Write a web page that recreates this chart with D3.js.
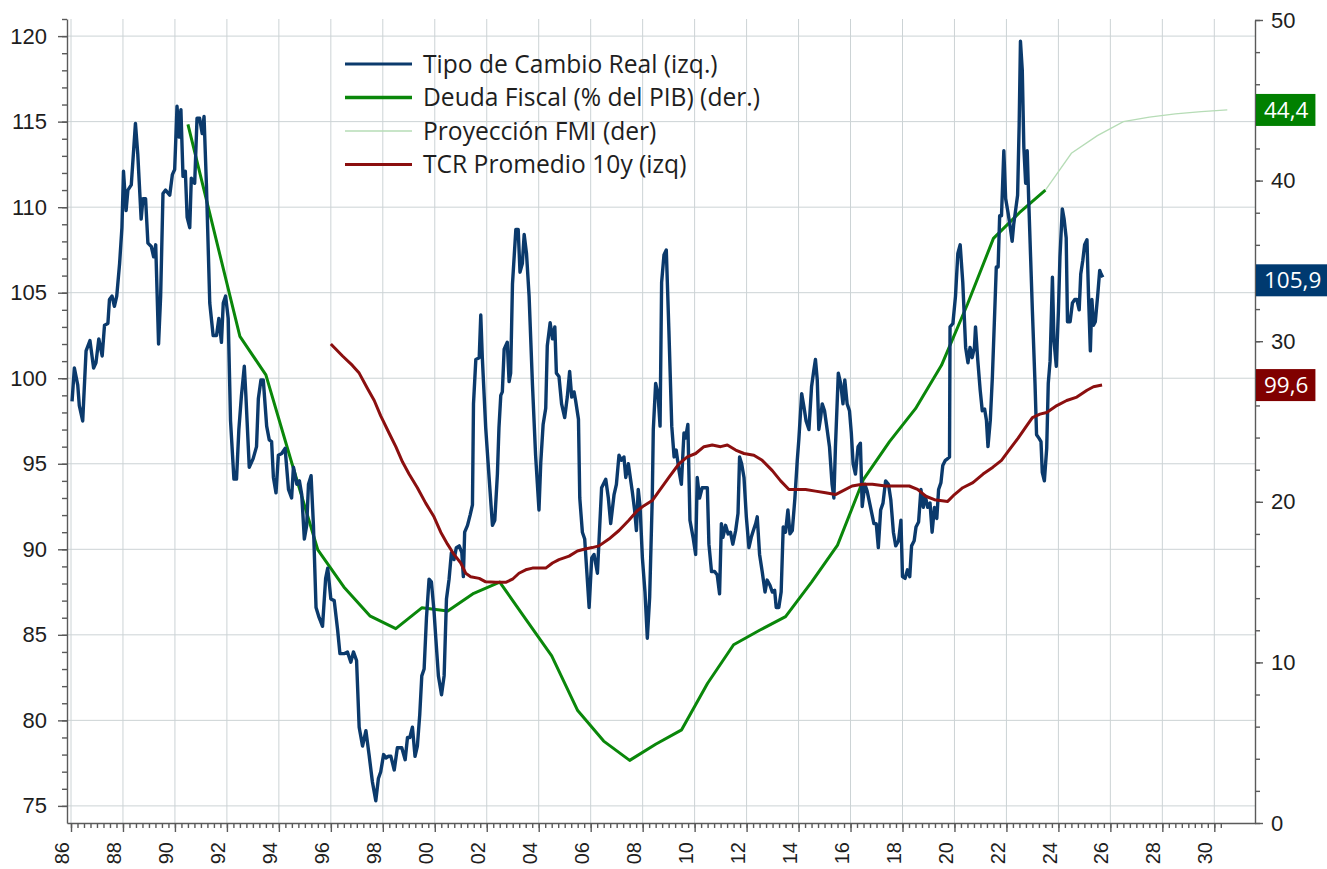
<!DOCTYPE html>
<html>
<head>
<meta charset="utf-8">
<script src="https://cdn.jsdelivr.net/npm/d3@7"></script>
<style>
  html, body { margin: 0; padding: 0; background: #fff; }
  svg { display: block; font-family: "Open Sans", "Noto Sans", sans-serif; }
</style>
</head>
<body>
<div id="chart"></div>
<script>
// === DATA (decimal year, value) ===

// Tipo de Cambio Real (left axis)
const tipoCambioReal = [
  [1986.04, 98.65], [1986.13, 100.6], [1986.26, 99.6], [1986.32, 98.4], [1986.45, 97.5],
  [1986.58, 101.6], [1986.73, 102.2], [1986.87, 100.6], [1986.96, 100.9], [1987.07, 102.3],
  [1987.2, 101.3], [1987.29, 103.1], [1987.42, 103.2], [1987.48, 104.6], [1987.58, 104.8],
  [1987.67, 104.2], [1987.76, 104.8], [1987.87, 106.7], [1987.96, 108.8], [1988.02, 112.1],
  [1988.12, 109.8], [1988.19, 111.0], [1988.32, 111.3], [1988.48, 114.9], [1988.57, 113.1],
  [1988.7, 109.3], [1988.77, 110.5], [1988.87, 110.5], [1988.96, 107.9], [1989.09, 107.7],
  [1989.18, 107.1], [1989.26, 107.8], [1989.37, 102.0], [1989.45, 104.8], [1989.54, 110.8],
  [1989.64, 111.0], [1989.8, 110.7], [1989.9, 111.9], [1989.99, 112.2], [1990.08, 115.9],
  [1990.16, 114.1], [1990.23, 115.7], [1990.31, 111.8], [1990.4, 112.1], [1990.47, 109.4],
  [1990.57, 108.8], [1990.63, 111.7], [1990.76, 111.4], [1990.85, 115.2], [1990.95, 115.2],
  [1991.05, 114.3], [1991.12, 115.3], [1991.21, 111.4], [1991.34, 104.4], [1991.47, 102.5],
  [1991.6, 102.5], [1991.69, 103.5], [1991.79, 102.1], [1991.86, 104.4], [1991.95, 104.8],
  [1992.05, 103.5], [1992.14, 97.5], [1992.27, 94.1], [1992.37, 94.1], [1992.46, 97.0],
  [1992.56, 99.0], [1992.67, 100.7], [1992.73, 99.0], [1992.86, 94.8], [1993.01, 95.3],
  [1993.14, 96.0], [1993.21, 98.8], [1993.31, 99.9], [1993.4, 99.9], [1993.53, 97.2],
  [1993.63, 96.4], [1993.72, 96.3], [1993.79, 94.2], [1993.89, 93.3], [1993.98, 95.5],
  [1994.11, 95.6], [1994.24, 95.9], [1994.37, 93.5], [1994.49, 93.0], [1994.56, 94.8],
  [1994.69, 93.8], [1994.79, 94.0], [1994.88, 93.2], [1994.98, 90.6], [1995.07, 91.4],
  [1995.14, 93.8], [1995.24, 94.3], [1995.33, 91.4], [1995.43, 86.6], [1995.55, 86.0],
  [1995.68, 85.5], [1995.8, 88.3], [1995.88, 88.9], [1996.0, 87.1], [1996.13, 87.0],
  [1996.26, 85.3], [1996.35, 83.9], [1996.51, 83.9], [1996.64, 84.0], [1996.77, 83.4],
  [1996.87, 84.0], [1996.99, 83.5], [1997.09, 79.6], [1997.22, 78.5], [1997.35, 79.4],
  [1997.47, 78.0], [1997.6, 76.4], [1997.73, 75.3], [1997.83, 76.6], [1997.92, 77.0],
  [1998.03, 78.0], [1998.12, 77.8], [1998.22, 77.9], [1998.31, 77.9], [1998.44, 77.1],
  [1998.56, 78.4], [1998.73, 78.4], [1998.86, 77.7], [1998.95, 79.0], [1999.04, 79.0],
  [1999.14, 79.6], [1999.24, 77.9], [1999.33, 78.5], [1999.42, 80.3], [1999.5, 82.6],
  [1999.59, 83.0], [1999.68, 86.0], [1999.78, 88.25], [1999.87, 88.1], [1999.97, 86.4],
  [2000.04, 84.8], [2000.14, 82.6], [2000.26, 81.5], [2000.36, 82.6], [2000.45, 87.1],
  [2000.55, 88.25], [2000.64, 89.8], [2000.74, 89.4], [2000.83, 90.1], [2000.94, 90.2],
  [2001.04, 89.8], [2001.1, 88.4], [2001.15, 91.0], [2001.26, 91.4], [2001.36, 92.0],
  [2001.45, 92.6], [2001.49, 98.5], [2001.58, 101.1], [2001.71, 101.2], [2001.77, 103.7],
  [2001.83, 101.2], [2001.96, 97.1], [2002.09, 94.2], [2002.22, 91.4], [2002.31, 91.7],
  [2002.41, 94.4], [2002.47, 97.1], [2002.54, 99.0], [2002.6, 99.2], [2002.67, 101.7],
  [2002.79, 102.1], [2002.86, 99.8], [2002.92, 100.3], [2002.99, 105.5], [2003.12, 108.7],
  [2003.21, 108.7], [2003.28, 106.2], [2003.37, 106.7], [2003.44, 108.4], [2003.53, 107.3],
  [2003.63, 104.8], [2003.76, 99.6], [2003.88, 95.5], [2004.01, 92.3], [2004.08, 95.1],
  [2004.17, 97.3], [2004.27, 98.25], [2004.33, 101.9], [2004.44, 103.25], [2004.53, 102.3],
  [2004.62, 103.0], [2004.68, 100.3], [2004.78, 100.1], [2004.88, 98.5], [2005.0, 97.7],
  [2005.1, 98.9], [2005.19, 100.4], [2005.27, 98.9], [2005.36, 99.2], [2005.42, 98.7],
  [2005.53, 97.6], [2005.58, 93.0], [2005.68, 91.0], [2005.77, 90.6], [2005.87, 88.25],
  [2005.94, 86.6], [2006.04, 89.5], [2006.13, 89.7], [2006.26, 88.6], [2006.42, 93.6],
  [2006.58, 94.1], [2006.68, 93.0], [2006.77, 91.5], [2006.9, 93.2], [2006.99, 93.8],
  [2007.09, 95.5], [2007.18, 95.2], [2007.28, 95.4], [2007.35, 94.2], [2007.45, 95.0],
  [2007.6, 93.4], [2007.69, 92.3], [2007.76, 91.1], [2007.83, 93.5], [2007.9, 92.5],
  [2007.99, 89.5], [2008.09, 87.5], [2008.18, 84.8], [2008.27, 87.2], [2008.37, 93.0],
  [2008.41, 97.0], [2008.5, 99.7], [2008.59, 99.1], [2008.67, 97.2], [2008.73, 105.6],
  [2008.82, 107.2], [2008.91, 107.5], [2009.01, 102.8], [2009.12, 97.2], [2009.21, 95.4],
  [2009.29, 95.8], [2009.4, 94.6], [2009.49, 93.8], [2009.59, 96.8], [2009.65, 96.5],
  [2009.74, 97.3], [2009.82, 91.7], [2009.94, 90.7], [2010.04, 89.7], [2010.1, 94.2],
  [2010.19, 93.0], [2010.29, 93.6], [2010.38, 93.6], [2010.49, 93.6], [2010.55, 90.3],
  [2010.65, 88.7], [2010.77, 88.7], [2010.87, 88.5], [2010.96, 87.4], [2011.03, 91.5],
  [2011.09, 90.7], [2011.19, 91.4], [2011.29, 90.9], [2011.38, 91.0], [2011.47, 90.3],
  [2011.58, 91.1], [2011.67, 92.1], [2011.73, 95.4], [2011.81, 95.0], [2011.9, 94.2],
  [2011.99, 91.9], [2012.09, 90.1], [2012.18, 90.7], [2012.26, 91.1], [2012.35, 91.5],
  [2012.41, 91.9], [2012.5, 89.7], [2012.6, 88.7], [2012.71, 87.5], [2012.79, 88.2],
  [2012.9, 87.9], [2012.99, 87.5], [2013.08, 87.6], [2013.14, 86.6], [2013.24, 86.6],
  [2013.33, 87.5], [2013.41, 91.3], [2013.5, 91.0], [2013.59, 92.3], [2013.67, 90.9],
  [2013.76, 91.1], [2013.86, 93.0], [2013.95, 95.2], [2014.01, 96.4], [2014.12, 99.1],
  [2014.21, 98.3], [2014.29, 97.5], [2014.4, 97.0], [2014.5, 99.5], [2014.59, 100.5],
  [2014.65, 101.1], [2014.72, 99.9], [2014.78, 97.0], [2014.85, 97.7], [2014.91, 98.5],
  [2015.0, 98.1], [2015.1, 97.0], [2015.19, 96.0], [2015.29, 93.8], [2015.36, 93.0],
  [2015.42, 96.0], [2015.53, 100.3], [2015.62, 99.7], [2015.71, 98.5], [2015.78, 99.9],
  [2015.87, 98.5], [2015.96, 98.1], [2016.03, 96.8], [2016.1, 95.0], [2016.19, 94.4],
  [2016.29, 96.0], [2016.38, 96.2], [2016.45, 92.5], [2016.55, 93.8], [2016.64, 93.4],
  [2016.77, 92.45], [2016.9, 91.5], [2016.99, 91.5], [2017.07, 90.1], [2017.16, 92.3],
  [2017.25, 92.7], [2017.35, 94.0], [2017.46, 93.8], [2017.55, 92.9], [2017.65, 91.0],
  [2017.74, 90.2], [2017.85, 90.5], [2017.94, 91.7], [2018.0, 88.4], [2018.1, 88.3],
  [2018.19, 88.8], [2018.28, 88.4], [2018.35, 90.2], [2018.45, 90.5], [2018.52, 91.3],
  [2018.62, 91.6], [2018.71, 93.5], [2018.8, 92.45], [2018.88, 93.1], [2018.97, 92.45],
  [2019.06, 92.7], [2019.14, 91.0], [2019.23, 92.45], [2019.32, 91.8], [2019.39, 93.5],
  [2019.48, 93.9], [2019.55, 94.9], [2019.65, 95.2], [2019.74, 95.3], [2019.81, 95.4],
  [2019.83, 103.0], [2019.94, 103.2], [2020.04, 104.8], [2020.13, 107.3], [2020.22, 107.8],
  [2020.32, 105.6], [2020.43, 101.8], [2020.52, 100.9], [2020.6, 101.8], [2020.68, 101.2],
  [2020.77, 101.8], [2020.81, 103.0], [2020.9, 101.0], [2020.99, 99.3], [2021.07, 98.1],
  [2021.16, 98.2], [2021.23, 97.55], [2021.29, 96.0], [2021.38, 97.55], [2021.46, 100.1],
  [2021.55, 103.9], [2021.61, 106.5], [2021.68, 106.5], [2021.74, 109.5], [2021.81, 109.5],
  [2021.9, 113.3], [2021.97, 110.5], [2022.06, 109.7], [2022.15, 108.8], [2022.22, 108.0],
  [2022.28, 109.0], [2022.36, 109.9], [2022.43, 110.7], [2022.49, 114.8], [2022.54, 119.7],
  [2022.61, 118.0], [2022.67, 113.5], [2022.74, 111.4], [2022.8, 113.3], [2022.86, 110.3],
  [2022.93, 107.1], [2023.0, 103.9], [2023.1, 99.7], [2023.16, 96.7], [2023.25, 96.5],
  [2023.33, 96.3], [2023.38, 94.5], [2023.46, 94.0], [2023.55, 95.9], [2023.61, 99.7],
  [2023.68, 101.0], [2023.77, 105.9], [2023.83, 102.2], [2023.92, 100.7], [2024.0, 103.9],
  [2024.06, 107.1], [2024.15, 109.9], [2024.22, 109.3], [2024.3, 108.2], [2024.35, 103.3],
  [2024.45, 103.3], [2024.54, 104.4], [2024.63, 104.6], [2024.71, 104.6], [2024.8, 104.0],
  [2024.86, 106.1], [2024.94, 106.9], [2025.01, 107.8], [2025.1, 108.1], [2025.16, 104.8],
  [2025.23, 101.6], [2025.29, 104.6], [2025.35, 103.1], [2025.42, 103.3], [2025.51, 104.8],
  [2025.59, 106.3], [2025.64, 106.1], [2025.71, 105.9]
];

// Deuda Fiscal (% del PIB), right axis
const deudaFiscal = [
  [1990.5, 43.5], [1991.5, 36.9], [1992.5, 30.3], [1993.5, 27.9], [1994.5, 22.4],
  [1995.5, 17.0], [1996.5, 14.7], [1997.5, 12.9], [1998.5, 12.1], [1999.5, 13.4],
  [2000.5, 13.2], [2001.5, 14.3], [2002.5, 15.0], [2003.5, 12.7], [2004.5, 10.4],
  [2005.5, 7.0], [2006.5, 5.1], [2007.5, 3.9], [2008.5, 4.9], [2009.5, 5.8],
  [2010.5, 8.7], [2011.5, 11.1], [2012.5, 12.0], [2013.5, 12.85], [2014.5, 15.0],
  [2015.5, 17.3], [2016.5, 21.4], [2017.5, 23.75], [2018.5, 25.8], [2019.5, 28.5],
  [2020.5, 32.3], [2021.5, 36.4], [2022.5, 38.0], [2023.5, 39.4]
];

// Proyección FMI, right axis
const proyeccionFMI = [
  [2023.5, 39.4], [2024.5, 41.7], [2025.5, 42.8], [2026.5, 43.67], [2027.5, 43.95],
  [2028.5, 44.15], [2029.5, 44.3], [2030.5, 44.4]
];

// TCR Promedio 10y, left axis
const tcrPromedio10y = [
  [1996.0, 102.0], [1996.45, 101.3], [1996.83, 100.75], [1997.09, 100.3], [1997.41, 99.4],
  [1997.67, 98.7], [1997.92, 97.8], [1998.24, 96.8], [1998.5, 96.0], [1998.76, 95.1],
  [1999.01, 94.4], [1999.33, 93.6], [1999.65, 92.7], [1999.97, 91.9], [2000.23, 91.0],
  [2000.49, 90.3], [2000.74, 89.7], [2001.0, 89.2], [2001.19, 88.6], [2001.38, 88.4],
  [2001.71, 88.3], [2001.96, 88.1], [2002.35, 88.07], [2002.73, 88.07], [2002.99, 88.25],
  [2003.24, 88.6], [2003.5, 88.8], [2003.76, 88.9], [2004.27, 88.9], [2004.53, 89.2],
  [2004.78, 89.4], [2005.17, 89.6], [2005.49, 89.9], [2005.74, 90.0], [2006.06, 90.1],
  [2006.32, 90.2], [2006.7, 90.6], [2007.09, 91.1], [2007.47, 91.7], [2007.79, 92.25],
  [2008.05, 92.55], [2008.37, 92.85], [2008.63, 93.4], [2009.01, 94.2], [2009.4, 95.0],
  [2009.72, 95.4], [2010.04, 95.6], [2010.36, 96.0], [2010.68, 96.1], [2011.0, 96.0],
  [2011.26, 96.1], [2011.58, 95.8], [2011.9, 95.6], [2012.28, 95.5], [2012.6, 95.2],
  [2012.99, 94.6], [2013.31, 94.0], [2013.63, 93.5], [2013.88, 93.5], [2014.27, 93.5],
  [2014.65, 93.4], [2015.04, 93.3], [2015.42, 93.2], [2015.68, 93.4], [2016.06, 93.7],
  [2016.45, 93.8], [2016.84, 93.8], [2017.35, 93.7], [2017.87, 93.7], [2018.26, 93.7],
  [2018.58, 93.5], [2018.9, 93.1], [2019.23, 92.9], [2019.74, 92.8], [2020.0, 93.2],
  [2020.32, 93.6], [2020.71, 93.9], [2021.1, 94.4], [2021.48, 94.8], [2021.81, 95.2],
  [2022.13, 95.85], [2022.45, 96.5], [2022.77, 97.2], [2023.0, 97.7], [2023.29, 97.9],
  [2023.55, 98.0], [2023.94, 98.4], [2024.32, 98.7], [2024.71, 98.9], [2025.1, 99.3],
  [2025.35, 99.5], [2025.68, 99.6]
];

const xMajorYears = d3.range(1986, 2031, 2);
const xMinorYears = d3.range(1986, 2030.3, 0.25);
const leftTicks = d3.range(75, 121, 5);
const leftMinorTicks = d3.range(75, 122, 1);
const rightTicks = d3.range(0, 51, 10);
const rightMinorTicks = d3.range(0, 51, 2);

const legendLabels = [
  "Tipo de Cambio Real (izq.)",
  "Deuda Fiscal (% del PIB) (der.)",
  "Proyección FMI (der)",
  "TCR Promedio 10y (izq)"
];

// === CHART ===
const colors = {
  tcr: "#0b3a6c",
  deuda: "#0a870a",
  proy: "#b6dcb6",
  avg: "#8b0f0f",
  grid: "#ccd3d5",
  axis: "#5a5a5a",
  text: "#1e1e1e"
};

const width = 1327, height = 869;
const margin = { top: 19, right: 72, bottom: 46, left: 67 };
const innerRight = width - margin.right;
const innerBottom = height - margin.bottom;

const svg = d3.select("#chart")
  .append("svg")
  .attr("width", width)
  .attr("height", height);

const pxPerYear = (1214.3 - 71) / 44;
const x = d3.scaleLinear()
  .domain([1986 - (71 - margin.left) / pxPerYear, 2030 + (innerRight - 1214.3) / pxPerYear])
  .range([margin.left, innerRight]);

const yL = d3.scaleLinear()
  .domain([74, 121])
  .range([innerBottom, margin.top]);

const yR = d3.scaleLinear()
  .domain([0, 50])
  .range([innerBottom, 20]);

// grid
svg.append("g")
  .selectAll("line")
  .data(leftTicks)
  .join("line")
  .attr("x1", margin.left)
  .attr("x2", innerRight)
  .attr("y1", d => yL(d))
  .attr("y2", d => yL(d))
  .attr("stroke", colors.grid)
  .attr("stroke-width", 1);

svg.append("g")
  .selectAll("line")
  .data(xMajorYears)
  .join("line")
  .attr("x1", d => x(d))
  .attr("x2", d => x(d))
  .attr("y1", margin.top)
  .attr("y2", innerBottom)
  .attr("stroke", colors.grid)
  .attr("stroke-width", 1);

// lines
const lineL = d3.line().x(d => x(d[0])).y(d => yL(d[1]));
const lineR = d3.line().x(d => x(d[0])).y(d => yR(d[1]));

svg.append("path")
  .datum(proyeccionFMI)
  .attr("fill", "none")
  .attr("stroke", colors.proy)
  .attr("stroke-width", 1.3)
  .attr("d", lineR);

svg.append("path")
  .datum(deudaFiscal)
  .attr("fill", "none")
  .attr("stroke", colors.deuda)
  .attr("stroke-width", 3)
  .attr("stroke-linejoin", "round")
  .attr("d", lineR);

svg.append("path")
  .datum(tipoCambioReal)
  .attr("fill", "none")
  .attr("stroke", colors.tcr)
  .attr("stroke-width", 3.4)
  .attr("stroke-linejoin", "round")
  .attr("d", lineL);

svg.append("path")
  .datum(tcrPromedio10y)
  .attr("fill", "none")
  .attr("stroke", colors.avg)
  .attr("stroke-width", 3)
  .attr("stroke-linejoin", "round")
  .attr("d", lineL);

// axes
function styleAxis(g) {
  g.selectAll("path, line").attr("stroke", colors.axis).attr("stroke-width", 1.4);
  g.selectAll("text").attr("fill", colors.text);
}

// x axis
svg.append("g")
  .attr("transform", `translate(0,${innerBottom})`)
  .call(d3.axisBottom(x).tickValues(xMinorYears).tickSize(5).tickSizeOuter(0).tickFormat(""))
  .call(styleAxis);

const xAxis = svg.append("g")
  .attr("transform", `translate(0,${innerBottom})`)
  .call(d3.axisBottom(x)
    .tickValues(xMajorYears)
    .tickSize(9)
    .tickSizeOuter(0)
    .tickFormat(d => String(d % 100).padStart(2, "0")))
  .call(styleAxis);

xAxis.select(".domain").remove();
xAxis.selectAll("text")
  .attr("transform", "rotate(-90)")
  .attr("text-anchor", "end")
  .attr("x", -19)
  .attr("y", 0)
  .attr("dy", "-0.12em")
  .attr("font-size", 20);

// left axis
svg.append("g")
  .attr("transform", `translate(${margin.left},0)`)
  .call(d3.axisLeft(yL).tickValues(leftMinorTicks).tickSize(5).tickSizeOuter(0).tickFormat(""))
  .call(styleAxis);

const leftAxis = svg.append("g")
  .attr("transform", `translate(${margin.left},0)`)
  .call(d3.axisLeft(yL).tickValues(leftTicks).tickSize(9).tickPadding(11).tickSizeOuter(0))
  .call(styleAxis);
leftAxis.select(".domain").remove();
leftAxis.selectAll("text").attr("font-size", 22);

// right axis
svg.append("g")
  .attr("transform", `translate(${innerRight},0)`)
  .call(d3.axisRight(yR).tickValues(rightMinorTicks).tickSize(5).tickSizeOuter(0).tickFormat(""))
  .call(styleAxis);

const rightAxis = svg.append("g")
  .attr("transform", `translate(${innerRight},0)`)
  .call(d3.axisRight(yR).tickValues(rightTicks).tickSize(8).tickPadding(8).tickSizeOuter(0))
  .call(styleAxis);
rightAxis.select(".domain").remove();
rightAxis.selectAll("text").attr("font-size", 22);

// legend
const legendStyles = [
  { color: colors.tcr, w: 3 },
  { color: colors.deuda, w: 3.5 },
  { color: colors.proy, w: 1.3 },
  { color: colors.avg, w: 3 }
];

const legend = svg.append("g").attr("transform", "translate(345,64)");
legendLabels.forEach((label, i) => {
  const row = legend.append("g").attr("transform", `translate(0,${i * 33.5})`);
  row.append("line")
    .attr("x1", 0).attr("x2", 67)
    .attr("stroke", legendStyles[i].color)
    .attr("stroke-width", legendStyles[i].w);
  row.append("text")
    .attr("x", 78)
    .attr("dy", "0.35em")
    .attr("font-size", 24.6)
    .attr("fill", colors.text)
    .text(label);
});

// end value labels
const fmt = v => d3.format(".1f")(v).replace(".", ",");
const endLabels = [
  { value: proyeccionFMI[proyeccionFMI.length - 1][1], y: yR(proyeccionFMI[proyeccionFMI.length - 1][1]), fill: "#008000" },
  { value: tipoCambioReal[tipoCambioReal.length - 1][1], y: yL(tipoCambioReal[tipoCambioReal.length - 1][1]) + 3, fill: "#003a70" },
  { value: tcrPromedio10y[tcrPromedio10y.length - 1][1], y: yL(tcrPromedio10y[tcrPromedio10y.length - 1][1]), fill: "#800000" }
];

endLabels.forEach(d => {
  const g = svg.append("g").attr("transform", `translate(${innerRight + 1},${d.y})`);
  const rect = g.append("rect").attr("fill", d.fill).attr("y", -16).attr("height", 32);
  const t = g.append("text")
    .attr("x", 8)
    .attr("dy", "0.35em")
    .attr("font-size", 22.5)
    .attr("fill", "#fff")
    .text(fmt(d.value));
  const w = t.node().getComputedTextLength();
  rect.attr("width", w + 15);
});
</script>
</body>
</html>
